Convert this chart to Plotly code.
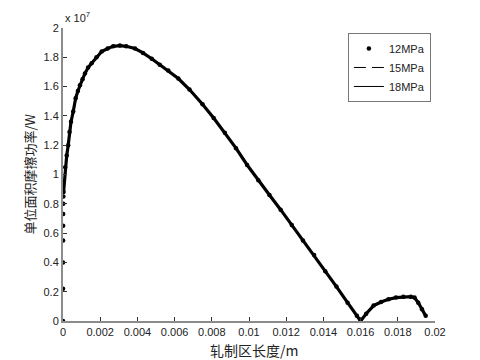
import plotly.graph_objects as go

# x: rolling zone length (m); y in units of 1e7 W
x12 = [0.0, 0.000002, 0.000004, 0.000006, 0.000008, 0.00001, 0.000015, 0.00002, 0.00003,
       0.00012, 0.0002, 0.00028, 0.00035, 0.00043, 0.00055, 0.00068, 0.0008, 0.00091,
       0.00105, 0.00118, 0.00135, 0.00154, 0.0018, 0.00208, 0.0024, 0.0027, 0.00306,
       0.0034, 0.00387, 0.0043, 0.00477, 0.0052, 0.00566, 0.0062, 0.0068, 0.0075, 0.0081,
       0.0087, 0.0093, 0.0099, 0.0105, 0.0111, 0.0117, 0.0123, 0.0129, 0.0135, 0.0141,
       0.0147, 0.0153, 0.0158, 0.0160, 0.0163, 0.0167, 0.0171, 0.0175, 0.0179, 0.0183,
       0.0187, 0.0189, 0.0191, 0.0193, 0.0195]
y12 = [0.0, 0.22, 0.40, 0.55, 0.65, 0.73, 0.80, 0.85, 0.88,
       1.05, 1.13, 1.20, 1.29, 1.36, 1.43, 1.52, 1.57, 1.61,
       1.65, 1.69, 1.73, 1.76, 1.80, 1.84, 1.86, 1.875, 1.88,
       1.875, 1.86, 1.83, 1.79, 1.75, 1.71, 1.655, 1.58, 1.48, 1.385,
       1.285, 1.18, 1.065, 0.96, 0.86, 0.76, 0.655, 0.55, 0.45, 0.34,
       0.235, 0.125, 0.035, 0.0, 0.05, 0.105, 0.13, 0.148, 0.16, 0.165,
       0.166, 0.16, 0.125, 0.08, 0.035]

x_line = [0.0, 0.00012, 0.0002, 0.00035, 0.00055, 0.0008, 0.00118, 0.00154, 0.00208,
          0.0027, 0.00306, 0.00387, 0.00477, 0.00566, 0.0068, 0.0081, 0.0093, 0.0105,
          0.0117, 0.0129, 0.0141, 0.0153, 0.0160, 0.0167, 0.0175, 0.0183, 0.0187,
          0.0191, 0.0195]
y15 = [0.87, 1.05, 1.13, 1.29, 1.43, 1.57, 1.69, 1.76, 1.84,
       1.875, 1.88, 1.86, 1.79, 1.71, 1.58, 1.385, 1.18, 0.96,
       0.76, 0.55, 0.34, 0.125, 0.0, 0.10, 0.145, 0.163, 0.165,
       0.13, 0.04]
y18 = [0.88, 1.05, 1.14, 1.29, 1.44, 1.57, 1.69, 1.77, 1.84,
       1.876, 1.881, 1.86, 1.795, 1.71, 1.58, 1.385, 1.18, 0.96,
       0.76, 0.55, 0.34, 0.125, 0.0, 0.10, 0.147, 0.164, 0.166,
       0.128, 0.038]

x_ticks = [0, 0.002, 0.004, 0.006, 0.008, 0.01, 0.012, 0.014, 0.016, 0.018, 0.02]
x_tick_text = ["0", "0.002", "0.004", "0.006", "0.008", "0.01", "0.012", "0.014", "0.016", "0.018", "0.02"]
y_ticks = [0, 0.2, 0.4, 0.6, 0.8, 1, 1.2, 1.4, 1.6, 1.8, 2]
y_tick_text = ["0", "0.2", "0.4", "0.6", "0.8", "1", "1.2", "1.4", "1.6", "1.8", "2"]

fig = go.Figure()
start = y12.index(0.88)
fig.add_trace(go.Scatter(x=x12[start:], y=y12[start:], mode="lines", showlegend=False,
                         line=dict(color="black", width=3.2), hoverinfo="skip"))
fig.add_trace(go.Scatter(x=x12, y=y12, mode="markers", name="12MPa",
                         marker=dict(color="black", size=4.5, symbol="circle")))
fig.add_trace(go.Scatter(x=x_line, y=y15, mode="lines", name="15MPa",
                         line=dict(color="black", width=1, dash="12px,6px")))
fig.add_trace(go.Scatter(x=x_line, y=y18, mode="lines", name="18MPa",
                         line=dict(color="black", width=1)))

tick_font = dict(family="Liberation Sans, Arial", size=11, color="#222")
fig.update_layout(
    width=480, height=360,
    margin=dict(l=63, r=45, t=28, b=39),
    paper_bgcolor="white", plot_bgcolor="white",
    font=dict(family="Liberation Sans, Arial", size=11, color="#222"),
    xaxis=dict(range=[0, 0.02], tickvals=x_ticks, ticktext=x_tick_text,
               showgrid=False, zeroline=False, showline=True, linecolor="#8c8c8c", linewidth=2,
               ticks="inside", ticklen=4, tickcolor="#333", tickfont=tick_font),
    yaxis=dict(range=[0, 2], tickvals=y_ticks, ticktext=y_tick_text,
               showgrid=False, zeroline=False, showline=True, linecolor="#8c8c8c", linewidth=2,
               ticks="inside", ticklen=4, tickcolor="#333", tickfont=tick_font),
    legend=dict(x=0.989, y=0.983, xanchor="right", yanchor="top",
                bgcolor="white", bordercolor="#777", borderwidth=1,
                font=dict(family="Liberation Sans, Arial", size=11, color="#222"),
                tracegroupgap=0, itemwidth=30),
    annotations=[
        dict(text="x 10<sup>7</sup>", xref="paper", yref="paper", x=0, y=1.0,
             xanchor="left", yanchor="bottom", yshift=2, showarrow=False,
             font=dict(family="Liberation Sans, Arial", size=11, color="#222")),
        dict(text="轧制区长度/m", xref="paper", yref="paper", x=0.513, y=0,
             xanchor="center", yanchor="top", yshift=-18, showarrow=False, borderpad=0,
             font=dict(family="Noto Sans CJK SC", size=14, color="#222")),
        dict(text="单位面积摩擦功率/W", xref="paper", yref="paper", x=0, y=0.5,
             xanchor="center", yanchor="middle", xshift=-34, textangle=-90, showarrow=False,
             font=dict(family="Noto Sans CJK SC", size=13, color="#222")),
    ],
)

fig.write_html("out.html", post_script="document.body.style.margin='0';",
               config={"displayModeBar": False})
